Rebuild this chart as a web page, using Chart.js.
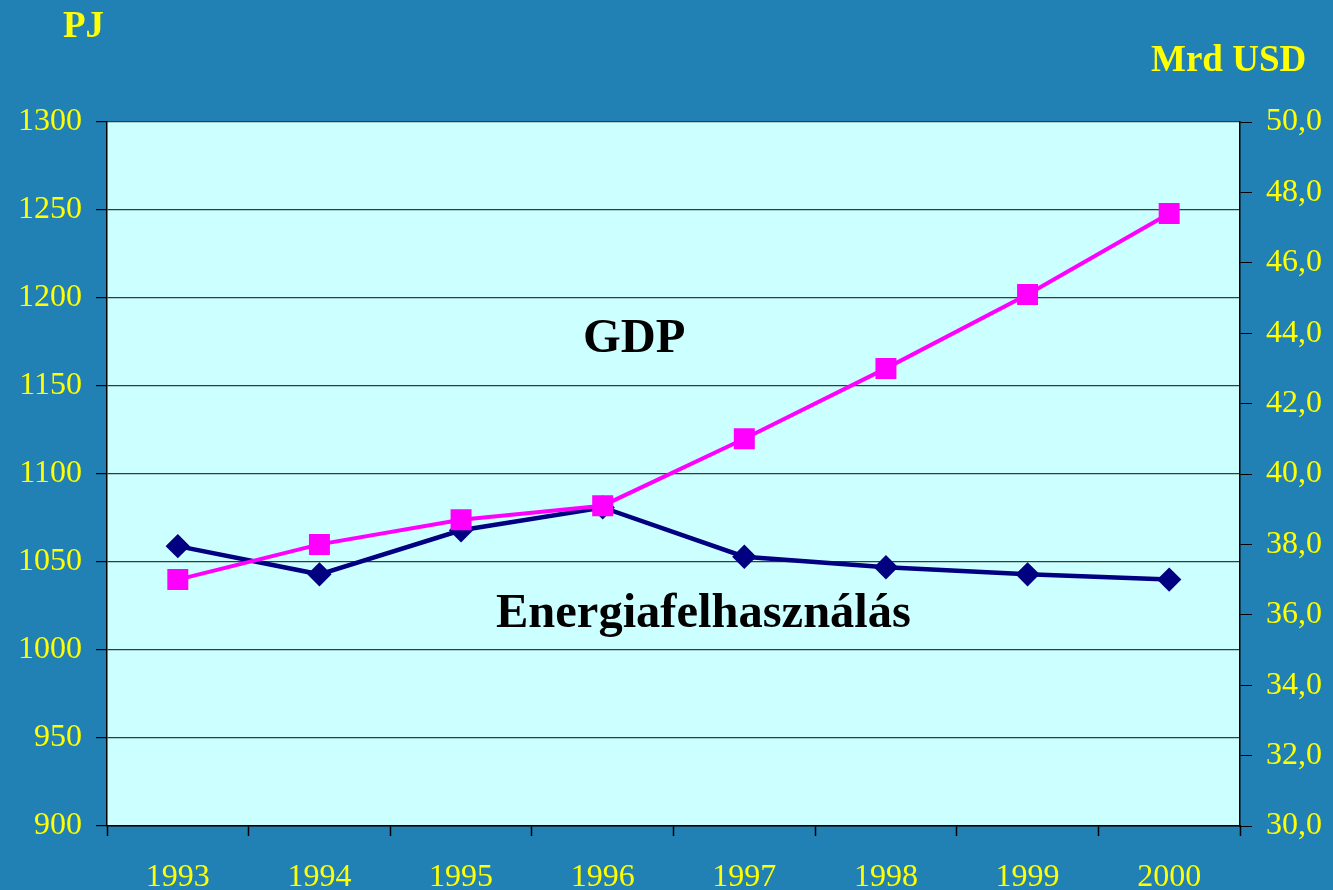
<!DOCTYPE html>
<html>
<head>
<meta charset="utf-8">
<script src="https://cdn.jsdelivr.net/npm/chart.js@4"></script>
<style>
  html,body{margin:0;padding:0;background:#2181B5;}
  #wrap{position:relative;width:1333px;height:890px;}
  canvas{position:absolute;left:0;top:0;}
  .lbl{position:absolute;font-family:"Liberation Serif","Times New Roman",serif;font-weight:bold;white-space:nowrap;line-height:1;}
  .unit{color:#FFFF00;font-size:37px;}
  .note{color:#000;font-size:48.5px;}
</style>
</head>
<body>
<div id="wrap">
  <canvas id="c" width="1333" height="890"></canvas>
  <div class="lbl unit" style="left:63px;top:6px;">PJ</div>
  <div class="lbl unit" style="left:1151px;top:40px;">Mrd USD</div>
  <div class="lbl note" style="left:583px;top:312px;">GDP</div>
  <div class="lbl note" style="left:496px;top:587px;">Energiafelhasználás</div>
</div>
<script>
// ---------- data ----------
const years = ['1993','1994','1995','1996','1997','1998','1999','2000'];
const energyPJ = [1059, 1043, 1068, 1081, 1053, 1047, 1043, 1040];   // left axis, PJ
const gdpUSD   = [37.0, 38.0, 38.7, 39.1, 41.0, 43.0, 45.1, 47.4];   // right axis, Mrd USD

const YELLOW = '#FFFF00';
const tickFont = {family:'"Liberation Serif","Times New Roman",serif', size:32};

// plot area fill
const plotBg = {
  id:'plotBg',
  beforeDraw(chart){
    const a = chart.chartArea, ctx = chart.ctx;
    ctx.save();
    ctx.fillStyle = '#CCFFFF';
    ctx.fillRect(a.left, a.top, a.right-a.left, a.bottom-a.top);
    ctx.restore();
  }
};

new Chart(document.getElementById('c'), {
  type:'line',
  data:{
    labels:years,
    datasets:[
      {label:'GDP', data:gdpUSD, yAxisID:'yR', borderColor:'#FF00FF', backgroundColor:'#FF00FF',
       borderWidth:4, pointStyle:'rect', pointRadius:12, pointHoverRadius:12, tension:0},
      {label:'Energiafelhasználás', data:energyPJ, yAxisID:'yL', borderColor:'#000080', backgroundColor:'#000080',
       borderWidth:4.5, pointStyle:'rectRot', pointRadius:9, pointHoverRadius:9, tension:0}
    ]
  },
  options:{
    responsive:false, animation:false,
    layout:{padding:{top:122, left:0, right:0, bottom:0}},
    plugins:{legend:{display:false}, tooltip:{enabled:false}},
    scales:{
      x:{
        offset:true,
        grid:{offset:true, drawOnChartArea:false, color:'#000', tickLength:10, tickWidth:1.5},
        border:{color:'#000', width:1.5},
        ticks:{color:YELLOW, font:tickFont, padding:22, maxRotation:0},
        afterFit(s){ s.height = 64; }
      },
      yL:{
        position:'left', min:900, max:1300,
        ticks:{stepSize:50, color:YELLOW, font:tickFont, padding:14, callback:v=>String(v)},
        grid:{color:'#3a3a3a', lineWidth:1.2, tickLength:11, tickColor:'#000'},
        border:{color:'#000', width:1.5},
        afterFit(s){ s.width = 107; }
      },
      yR:{
        position:'right', min:30, max:50,
        ticks:{stepSize:2, color:YELLOW, font:tickFont, padding:14,
               callback:v=>v.toFixed(1).replace('.', ',')},
        grid:{drawOnChartArea:false, color:'#000', tickLength:12},
        border:{color:'#000', width:1.5},
        afterFit(s){ s.width = 93; }
      }
    }
  },
  plugins:[plotBg]
});
</script>
</body>
</html>
